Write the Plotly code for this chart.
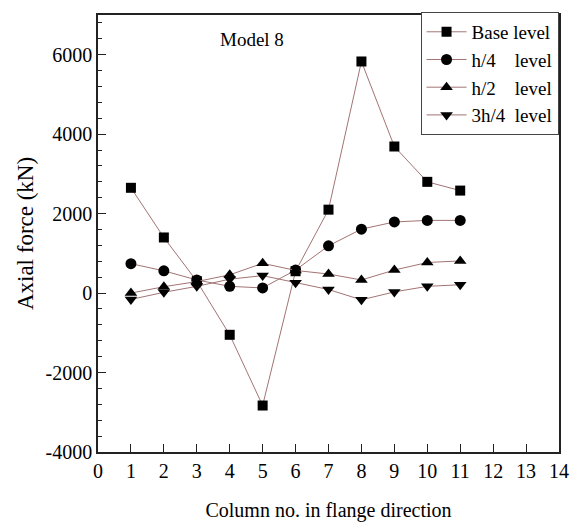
import plotly.graph_objects as go

columns = [1, 2, 3, 4, 5, 6, 7, 8, 9, 10, 11]
base_level = [2650, 1400, 300, -1050, -2830, 550, 2100, 5830, 3690, 2800, 2580]
h4_level = [740, 560, 330, 170, 130, 580, 1190, 1610, 1790, 1830, 1830]
h2_level = [0, 160, 290, 460, 750, 570, 480, 330, 580, 770, 810]
h34_level = [-160, 20, 170, 350, 440, 260, 90, -170, 30, 170, 210]

x_ticks = list(range(0, 15))
y_ticks = [-4000, -2000, 0, 2000, 4000, 6000]
y_tick_text = ["-4000", "-2000", "0", "2000", "4000", "6000"]

names = ["Base level", "h/4\u00a0\u00a0\u00a0\u00a0level", "h/2\u00a0\u00a0\u00a0\u00a0level", "3h/4\u00a0\u00a0level"]
symbols = ["square", "circle", "triangle-up", "triangle-down"]
sizes = [10, 11, 11, 11]
series = [base_level, h4_level, h2_level, h34_level]

line_color = "#a27474"
font_family = "Liberation Serif"

fig = go.Figure()
for name, sym, sz, vals in zip(names, symbols, sizes, series):
    fig.add_trace(go.Scatter(
        x=columns, y=vals, mode="lines+markers", name=name,
        line=dict(color=line_color, width=1),
        marker=dict(symbol=sym, size=sz, color="black"),
    ))

fig.update_layout(
    width=581, height=531,
    margin=dict(l=98, r=14, t=13, b=79),
    paper_bgcolor="white", plot_bgcolor="white",
    font=dict(family=font_family, color="black", size=19),
    showlegend=True,
    legend=dict(
        x=0.999, y=1.007, xanchor="right", yanchor="top",
        bgcolor="white", bordercolor="#444", borderwidth=1,
        font=dict(family=font_family, size=19, color="black"),
        itemwidth=40, tracegroupgap=0,
    ),
    annotations=[dict(
        text="Model 8", x=4.67, y=6390, xref="x", yref="y",
        showarrow=False, font=dict(family=font_family, size=19, color="black"),
    )],
    xaxis=dict(
        range=[0, 14], tickvals=x_ticks,
        showline=True, linecolor="#222", linewidth=1.5, mirror=True,
        ticks="inside", ticklen=8, tickwidth=1.2, tickcolor="#222",
        showgrid=False, zeroline=False,
        tickfont=dict(family=font_family, size=20),
        title=dict(text="Column no. in flange direction", font=dict(family=font_family, size=20), standoff=22),
    ),
    yaxis=dict(
        range=[-4000, 7000], tickvals=y_ticks, ticktext=y_tick_text,
        showline=True, linecolor="#222", linewidth=1.5, mirror=True,
        ticks="inside", ticklen=8, tickwidth=1.2, tickcolor="#222",
        minor=dict(ticks="inside", ticklen=4, dtick=400, tick0=0, tickcolor="#222", tickwidth=1),
        showgrid=False, zeroline=False,
        tickfont=dict(family=font_family, size=20),
        title=dict(text="Axial force (kN)", font=dict(family=font_family, size=23), standoff=6),
    ),
)

fig.write_html("out.html")
